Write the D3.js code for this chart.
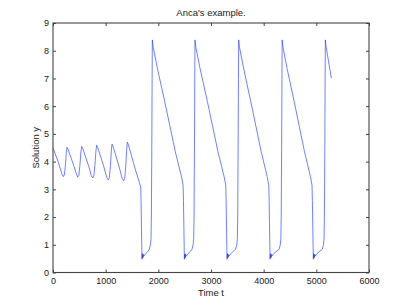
<!DOCTYPE html>
<html>
<head>
<meta charset="utf-8">
<script src="https://cdn.jsdelivr.net/npm/d3@7"></script>
<style>
  body { margin: 0; background: #fff; }
  svg text { font-family: "Liberation Sans", Arial, sans-serif; fill: #1a1a1a; }
</style>
</head>
<body>
<svg id="chart" width="407" height="306"></svg>
<script>
// values
const timeT = [
  0, 100, 170, 196, 215, 235, 252, 266, 285,
  400, 445, 469, 490, 510, 530, 545, 565,
  680, 728, 754, 775, 795, 815, 829, 850,
  960, 1020, 1050, 1070, 1090, 1108, 1120, 1140,
  1250, 1312, 1342, 1362, 1382, 1400, 1411, 1430,
  1550, 1640, 1665,
  1672, 1680, 1686, 1690, 1696, 1700, 1707, 1712, 1720, 1728, 1760, 1800, 1829, 1850, 1861, 1868, 1876, 1882, 1886,
  1900, 1981, 2121, 2322, 2440, 2470,
  2477, 2485, 2491, 2495, 2501, 2505, 2512, 2517, 2525, 2533, 2565, 2605, 2639, 2660, 2671, 2678, 2686, 2692, 2696,
  2710, 2791, 2931, 3132, 3250, 3280,
  3287, 3295, 3301, 3305, 3311, 3315, 3322, 3327, 3335, 3343, 3375, 3415, 3468, 3489, 3500, 3507, 3515, 3521, 3525,
  3539, 3618, 3755, 3953, 4068, 4097,
  4104, 4112, 4118, 4122, 4128, 4132, 4139, 4144, 4152, 4160, 4192, 4232, 4294, 4315, 4326, 4333, 4341, 4347, 4351,
  4365, 4443, 4579, 4775, 4889, 4918,
  4925, 4933, 4939, 4943, 4949, 4953, 4960, 4965, 4973, 4981, 5013, 5053, 5114, 5135, 5146, 5153, 5161, 5167, 5171,
  5185, 5285
];
const solutionY = [
  4.50, 3.98, 3.55, 3.46, 3.52, 3.85, 4.30, 4.52, 4.45,
  3.82, 3.55, 3.44, 3.50, 3.85, 4.35, 4.55, 4.47,
  3.82, 3.50, 3.41, 3.48, 3.85, 4.38, 4.59, 4.50,
  3.85, 3.43, 3.34, 3.42, 3.85, 4.40, 4.63, 4.55,
  3.85, 3.40, 3.31, 3.40, 3.85, 4.45, 4.70, 4.62,
  3.80, 3.25, 3.08,
  2.6, 1.6, 0.9, 0.48, 0.68, 0.52, 0.66, 0.55, 0.64, 0.60, 0.68, 0.75, 0.84, 1.0, 1.2, 2.0, 4.5, 7.0, 8.39,
  8.15, 7.37, 6.17, 4.36, 3.45, 3.15,
  2.6, 1.6, 0.9, 0.48, 0.68, 0.52, 0.66, 0.55, 0.64, 0.60, 0.68, 0.75, 0.84, 1.0, 1.2, 2.0, 4.5, 7.0, 8.39,
  8.15, 7.37, 6.17, 4.36, 3.45, 3.15,
  2.6, 1.6, 0.9, 0.48, 0.68, 0.52, 0.66, 0.55, 0.64, 0.60, 0.68, 0.75, 0.84, 1.0, 1.2, 2.0, 4.5, 7.0, 8.39,
  8.15, 7.37, 6.17, 4.36, 3.45, 3.15,
  2.6, 1.6, 0.9, 0.48, 0.68, 0.52, 0.66, 0.55, 0.64, 0.60, 0.68, 0.75, 0.84, 1.0, 1.2, 2.0, 4.5, 7.0, 8.39,
  8.15, 7.37, 6.17, 4.36, 3.45, 3.15,
  2.6, 1.6, 0.9, 0.48, 0.68, 0.52, 0.66, 0.55, 0.64, 0.60, 0.68, 0.75, 0.84, 1.0, 1.2, 2.0, 4.5, 7.0, 8.39,
  8.15, 7.01
];
const xTicks = [0, 1000, 2000, 3000, 4000, 5000, 6000];
const yTicks = [0, 1, 2, 3, 4, 5, 6, 7, 8, 9];

const svg = d3.select("#chart");
const plotL = 53, plotR = 369, plotT = 23, plotB = 272.5;

const x = d3.scaleLinear().domain([0, 6000]).range([plotL, plotR]);
const y = d3.scaleLinear().domain([0, 9]).range([plotB, plotT]);

// axes, ticks pointing inwards like matlab
svg.append("g")
  .attr("transform", `translate(0,${plotB})`)
  .call(d3.axisBottom(x).tickValues(xTicks).tickFormat(d3.format("d"))
    .tickSizeInner(-3).tickSizeOuter(0).tickPadding(5))
  .call(g => g.selectAll("text").attr("font-size", 9));
svg.append("g")
  .attr("transform", `translate(0,${plotT})`)
  .call(d3.axisTop(x).tickValues(xTicks).tickSizeInner(-3).tickSizeOuter(0).tickFormat(""));
svg.append("g")
  .attr("transform", `translate(${plotL},0)`)
  .call(d3.axisLeft(y).tickValues(yTicks).tickSizeInner(-3).tickSizeOuter(0).tickPadding(4))
  .call(g => g.selectAll("text").attr("font-size", 9));
svg.append("g")
  .attr("transform", `translate(${plotR},0)`)
  .call(d3.axisRight(y).tickValues(yTicks).tickSizeInner(-3).tickSizeOuter(0).tickFormat(""));

svg.selectAll(".domain").remove();
svg.selectAll(".tick line").attr("stroke", "#444");

// box
svg.append("rect")
  .attr("x", plotL).attr("y", plotT)
  .attr("width", plotR - plotL).attr("height", plotB - plotT)
  .attr("fill", "none").attr("stroke", "#444").attr("stroke-width", 1.1);

// the solution curve
const pts = timeT.map((t, i) => [t, solutionY[i]]);
svg.append("path")
  .datum(pts)
  .attr("fill", "none")
  .attr("stroke", "#1f3fff")
  .attr("stroke-width", 0.65)
  .attr("stroke-linejoin", "round")
  .attr("d", d3.line().x(d => x(d[0])).y(d => y(d[1])));

// titles
svg.append("text").attr("x", (plotL + plotR) / 2).attr("y", 16)
  .attr("text-anchor", "middle").attr("font-size", 9.5).text("Anca's example.");
svg.append("text").attr("x", (plotL + plotR) / 2).attr("y", 296)
  .attr("text-anchor", "middle").attr("font-size", 9.5).text("Time t");
svg.append("text")
  .attr("transform", `translate(39,${(plotT + plotB) / 2}) rotate(-90)`)
  .attr("text-anchor", "middle").attr("font-size", 9.5).text("Solution y");
</script>
</body>
</html>
